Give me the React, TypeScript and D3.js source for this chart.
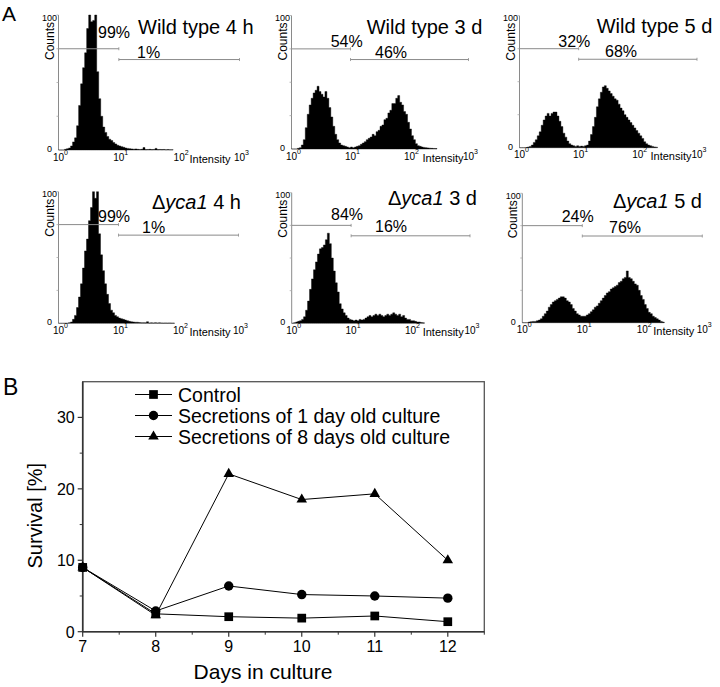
import * as d3 from 'd3';

// ---- Panel A: flow cytometry histograms ----
// counts (0-100) per bin, 30 bins per decade starting at 10^0
const BINS_PER_DECADE = 30;

const wt4h = [0, 0, 0, 0.5, 1, 1.5, 3, 6, 9, 18, 33, 49, 61, 72, 90, 100, 95, 96, 100, 58, 38, 25, 17, 13, 10, 8, 7, 5.5, 4.5, 3.5, 3, 2.5, 2, 1.5, 1.2, 1, 0.8, 0.6, 0.8, 0.5, 0.4, 0.5, 1.8, 0.3, 0.4, 0.5, 0.3, 0.4, 1.2, 0.3, 0.4, 0.3, 0.4, 0.2, 0.3, 0.2, 0.2];
const wt3d = [0, 0, 0, 0.5, 1, 3, 7, 16, 26, 33, 38, 42, 44, 47, 43, 41, 39, 43, 38, 31, 24, 17, 11, 7, 4.5, 3, 2.5, 2, 1.5, 1, 1.5, 1, 1.5, 2, 2.5, 3.5, 4.5, 5.5, 7, 8, 9, 11, 10, 13, 14, 17, 18, 22, 23, 27, 29, 34, 34, 38, 40, 35, 33, 28, 26, 20, 15, 10, 7, 4, 2.5, 2, 1.5, 1.2, 1, 0.8, 0.6, 0.5, 0.4, 0.3];
const wt5d = [0, 0, 0, 0, 0.5, 1, 2, 4, 6, 9, 12, 17, 21, 24, 26, 24, 26, 27, 27, 24, 20, 16, 11, 8, 5, 3, 2, 1.5, 1, 1.5, 1, 1.2, 1, 1.5, 2, 5, 10, 16, 23, 31, 37, 42, 46, 47, 45, 43, 41, 39, 37, 36, 33, 30, 28, 25, 23, 21, 19, 17, 15, 13, 11, 9, 7, 4.5, 3, 2, 1.5, 1, 0.6, 0.4];
const dy4h = [0, 0, 0, 0, 0, 0.5, 1, 3, 6, 12, 20, 30, 42, 55, 64, 78, 88, 100, 95, 100, 68, 52, 40, 30, 22, 15, 10, 8, 6, 5, 4, 3.5, 3, 2.5, 2, 1.5, 1.2, 1, 0.8, 0.8, 0.6, 0.5, 0.5, 0.4, 1.2, 0.3, 0.4, 0.3, 0.5, 0.3, 0.4, 0.3, 0.2, 0.3, 0.2, 0.3, 0.2, 0.2];
const dy3d = [0, 0.5, 1, 1.5, 2, 3, 5, 10, 17, 26, 34, 41, 47, 53, 57, 58, 60, 64, 69, 61, 50, 40, 31, 24, 15, 11, 8, 6, 4, 3, 2.5, 2, 2.5, 2, 3, 2.5, 3, 4, 5, 6, 5, 6, 7, 6, 7, 6, 5, 6, 7, 6, 7, 8, 7, 6, 7, 5, 6, 4, 3, 3, 2, 2, 1.5, 1, 1, 0.6, 0.4];
const dy5d = [0, 0, 0, 0.5, 0.8, 1, 1, 1.5, 2, 3, 5, 7, 9, 12, 14, 16, 17, 18, 19, 20, 20, 19, 17, 16, 14, 11, 9, 7, 6, 5, 5, 5, 6, 7, 8.5, 10, 12, 13, 15, 17, 19, 21, 23, 24, 26, 27, 28, 29, 31, 32, 34, 35, 40, 35, 34, 32, 30, 29, 25, 21, 18, 14, 11, 8, 7, 5, 4, 3, 2, 1, 0.5];

const histograms = [wt4h, wt3d, wt5d, dy4h, dy3d, dy5d];
const strains = ['Wild type', 'Wild type', 'Wild type', 'Δyca1', 'Δyca1', 'Δyca1'];
const times = ['4 h', '3 d', '5 d', '4 h', '3 d', '5 d'];
const leftPct = ['99%', '54%', '32%', '99%', '84%', '24%'];
const rightPct = ['1%', '46%', '68%', '1%', '16%', '76%'];

// marker gates: M1 10^0..10^1, M2 10^1..10^3
const gateM1 = { from: 1, to: 10, count: 75 };
const gateM2 = { from: 10, to: 1000, count: 67 };
const intensityTicks = [1, 10, 100, 1000];
const intensityExp = ['0', '1', '2', '3'];

// ---- Panel B: survival ----
const days = [7, 8, 9, 10, 11, 12];
const control = [9.0, 2.5, 2.1, 1.9, 2.2, 1.4];
const secretions1d = [9.0, 2.9, 6.4, 5.2, 5.0, 4.7];
const secretions8d = [9.0, 2.3, 22.1, 18.5, 19.3, 10.0];
const seriesNames = ['Control', 'Secretions of 1 day old culture', 'Secretions of 8 days old culture'];
const survivalTicks = [0, 10, 20, 30];

// ---- layout (pixel positions) ----
const FONT = 'Liberation Sans, Arial, Helvetica, sans-serif';
const panels = [
  { x: 58.5, y: 15, w: 181, h: 135, title: [138, 34], left: [98, 38], right: [137, 58] },
  { x: 291.5, y: 15.5, w: 177, h: 133.5, title: [366.7, 34.3], left: [330.7, 46.7], right: [375, 58.3] },
  { x: 519.5, y: 15.7, w: 177.5, h: 132, title: [596.7, 33.3], left: [558.3, 46.7], right: [605, 57.3] },
  { x: 58.5, y: 191.7, w: 180, h: 131.6, title: [152, 209.3], left: [98, 221.7], right: [142, 232.7] },
  { x: 291.7, y: 192.7, w: 178.3, h: 130.6, title: [388, 205], left: [331, 220], right: [375, 232.3] },
  { x: 522.3, y: 193.3, w: 180, h: 129.4, title: [613, 207.7], left: [561.7, 221.7], right: [609, 232.7] },
];

type Panel = (typeof panels)[number];

function Histogram({ p, values, strain, time, lp, rp }: { p: Panel; values: number[]; strain: string; time: string; lp: string; rp: string }) {
  const x = d3.scaleLog().domain([1, 1000]).range([p.x, p.x + p.w]);
  const y = d3.scaleLinear().domain([0, 100]).range([p.y + p.h, p.y]);
  const pts = values.map((v, i) => ({ e: Math.pow(10, i / BINS_PER_DECADE), v }));
  pts.push({ e: Math.pow(10, values.length / BINS_PER_DECADE), v: 0 });
  const area = d3
    .area<{ e: number; v: number }>()
    .x((d) => x(d.e))
    .y0(y(0))
    .y1((d) => y(d.v))
    .curve(d3.curveStepAfter);
  const bottom = y(0);
  const gateColor = '#8a8a8a';
  const isMutant = strain.startsWith('Δ');

  return (
    <g>
      {/* y axis */}
      <line x1={p.x} x2={p.x} y1={p.y} y2={bottom} stroke="#8a8a8a" strokeWidth={1} />
      {[25, 50, 75, 100].map((t) => (
        <line key={t} x1={p.x - 2} x2={p.x} y1={y(t)} y2={y(t)} stroke="#aaa" strokeWidth={0.8} />
      ))}
      <text x={p.x - 1.5} y={p.y + 5.5} fontSize={9} textAnchor="end" fontFamily={FONT}>100</text>
      <text x={p.x - 6.5} y={bottom + 2} fontSize={9} textAnchor="end" fontFamily={FONT}>0</text>
      <text
        transform={`translate(${p.x - 5},${p.y + 26}) rotate(-90)`}
        fontSize={12}
        textAnchor="middle"
        fontFamily={FONT}
      >
        Counts
      </text>

      {/* histogram */}
      <path d={area(pts) ?? ''} fill="#000" stroke="#000" strokeWidth={0.4} />

      {/* x tick labels */}
      {intensityTicks.map((t, i) => (
        <g key={t}>
          <text x={x(t)} y={bottom + 10.5} fontSize={10} textAnchor="middle" fontFamily={FONT}>10</text>
          <text x={x(t) + 5.5} y={bottom + 4.5} fontSize={7} fontFamily={FONT}>{intensityExp[i]}</text>
        </g>
      ))}
      <text x={p.x + 131} y={bottom + 12.5} fontSize={11} fontFamily={FONT}>Intensity</text>

      {/* gates */}
      <line x1={x(gateM1.from)} x2={x(gateM1.to)} y1={y(gateM1.count)} y2={y(gateM1.count)} stroke={gateColor} strokeWidth={1} />
      <line x1={x(gateM1.to)} x2={x(gateM1.to)} y1={y(gateM1.count) - 1.5} y2={y(gateM1.count) + 1.5} stroke={gateColor} strokeWidth={0.8} />
      <line x1={x(gateM2.from)} x2={x(gateM2.to)} y1={y(gateM2.count)} y2={y(gateM2.count)} stroke={gateColor} strokeWidth={1} />
      {[gateM2.from, gateM2.to].map((g) => (
        <line key={g} x1={x(g)} x2={x(g)} y1={y(gateM2.count) - 1.5} y2={y(gateM2.count) + 1.5} stroke={gateColor} strokeWidth={0.8} />
      ))}

      {/* labels */}
      <text x={p.left[0]} y={p.left[1]} fontSize={16} fontFamily={FONT}>{lp}</text>
      <text x={p.right[0]} y={p.right[1]} fontSize={16} fontFamily={FONT}>{rp}</text>
      <text x={p.title[0]} y={p.title[1]} fontSize={20} fontFamily={FONT}>
        {isMutant ? (
          <>
            <tspan>Δ</tspan>
            <tspan fontStyle="italic">{strain.slice(1)}</tspan>
            <tspan>{' ' + time}</tspan>
          </>
        ) : (
          `${strain} ${time}`
        )}
      </text>
    </g>
  );
}

function SurvivalChart() {
  const left = 82.7;
  const right = 484.3;
  const top = 381.7;
  const bottom = 631.7;
  const x = d3.scaleLinear().domain([7, 12.5]).range([left, right]);
  const y = d3.scaleLinear().domain([0, 35]).range([bottom, top]);
  const line = d3
    .line<number>()
    .x((_, i) => x(days[i]))
    .y((d) => y(d));

  const series = [control, secretions1d, secretions8d];
  const symbols = [
    d3.symbol(d3.symbolSquare, 76)(),
    d3.symbol(d3.symbolCircle, 70)(),
    d3.symbol(d3.symbolTriangle, 48)(),
  ];
  const axisColor = '#333';
  const minorX = d3.range(7.5, 12.5, 1);
  const minorY = [5, 15, 25];

  return (
    <g fontFamily={FONT}>
      {/* frame */}
      <rect x={left} y={top} width={right - left} height={bottom - top} fill="none" stroke="#555" strokeWidth={1.3} />
      <line x1={left} x2={left} y1={top} y2={bottom} stroke={axisColor} strokeWidth={1.6} />
      <line x1={left} x2={right} y1={bottom} y2={bottom} stroke={axisColor} strokeWidth={1.6} />

      {/* x ticks */}
      {days.map((d) => (
        <g key={d}>
          <line x1={x(d)} x2={x(d)} y1={bottom} y2={bottom + 5} stroke={axisColor} strokeWidth={1.2} />
          <text x={x(d)} y={bottom + 20} fontSize={16} textAnchor="middle">{d}</text>
        </g>
      ))}
      {minorX.map((d) => (
        <line key={d} x1={x(d)} x2={x(d)} y1={bottom} y2={bottom + 3} stroke={axisColor} strokeWidth={1} />
      ))}
      <line x1={right} x2={right} y1={bottom} y2={bottom + 3} stroke={axisColor} strokeWidth={1} />

      {/* y ticks */}
      {survivalTicks.map((t) => (
        <g key={t}>
          <line x1={left - 5} x2={left} y1={y(t)} y2={y(t)} stroke={axisColor} strokeWidth={1.2} />
          <text x={left - 8} y={y(t) + 6} fontSize={16} textAnchor="end">{t}</text>
        </g>
      ))}
      {minorY.map((t) => (
        <line key={t} x1={left - 3} x2={left} y1={y(t)} y2={y(t)} stroke={axisColor} strokeWidth={1} />
      ))}

      {/* axis titles */}
      <text transform={`translate(42,${(top + bottom) / 2 + 9}) rotate(-90)`} fontSize={20} textAnchor="middle">
        Survival [%]
      </text>
      <text x={263} y={679} fontSize={21} textAnchor="middle">Days in culture</text>

      {/* series */}
      {series.map((s, k) => (
        <path key={`l${k}`} d={line(s) ?? ''} fill="none" stroke="#000" strokeWidth={1} />
      ))}
      {series.map((s, k) =>
        s.map((v, i) => (
          <path key={`m${k}-${i}`} d={symbols[k] ?? ''} transform={`translate(${x(days[i])},${y(v)})`} fill="#000" />
        ))
      )}

      {/* legend */}
      {seriesNames.map((name, k) => {
        const ly = 394.5 + k * 21;
        return (
          <g key={name}>
            <line x1={135} x2={172} y1={ly} y2={ly} stroke="#000" strokeWidth={1} />
            <path d={symbols[k] ?? ''} transform={`translate(153.5,${ly})`} fill="#000" />
            <text x={178} y={ly + 7} fontSize={19.5}>{name}</text>
          </g>
        );
      })}
    </g>
  );
}

export default function App() {
  return (
    <>
      <style>{'body{margin:0}'}</style>
      <svg width={720} height={687} viewBox="0 0 720 687" style={{ display: 'block', background: '#fff' }}>
        <text x={2} y={21} fontSize={21} fontFamily={FONT}>A</text>
        <text x={3} y={395} fontSize={23} fontFamily={FONT}>B</text>
        {panels.map((p, i) => (
          <Histogram
            key={i}
            p={p}
            values={histograms[i]}
            strain={strains[i]}
            time={times[i]}
            lp={leftPct[i]}
            rp={rightPct[i]}
          />
        ))}
        <SurvivalChart />
      </svg>
    </>
  );
}
